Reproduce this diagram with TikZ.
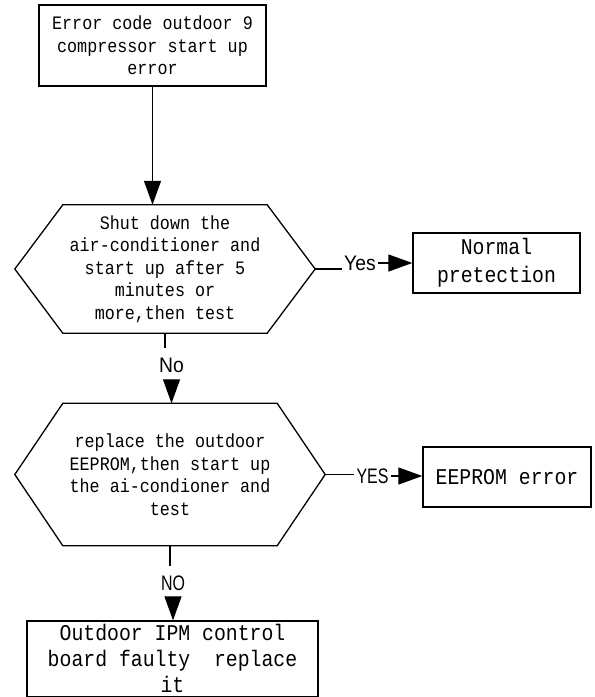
\documentclass[tikz,border=0pt]{standalone}
\usepackage{fontspec}
\usetikzlibrary{arrows.meta}
\newfontfamily\monof[FakeStretch=0.88]{Liberation Mono}
\newfontfamily\labf[FakeStretch=0.92]{Liberation Sans}
\newfontfamily\labcf[FakeStretch=0.76]{Liberation Sans}
\begin{document}
\begin{tikzpicture}[x=1pt,y=-1pt,
  box/.style={draw, line width=1.3pt, inner sep=0pt, align=center},
  smalltxt/.style={font=\monof\fontsize{19}{22.5}\selectfont},
  bigtxt/.style={font=\monof\fontsize{22.5}{26}\selectfont},
  lbl/.style={font=\labf\fontsize{21}{22}\selectfont, inner xsep=2pt, inner ysep=9pt},
  lblcaps/.style={font=\labcf\fontsize{21}{22}\selectfont, inner xsep=2pt, inner ysep=9pt},
  hexnode/.style={inner sep=0pt, align=center},
  hexline/.style={line width=1.3pt, line join=miter},
  arr/.style={-{Triangle[length=24pt,width=17pt]}, line width=1.2pt},
  ln/.style={line width=1.2pt}]
\useasboundingbox (0,0) rectangle (595,697);

% nodes
\node[box, smalltxt, minimum width=227pt, minimum height=81pt] (top) at (152.5,45.5)
  {Error code outdoor 9\\compressor start up\\error};

\node[hexnode, smalltxt, minimum width=300pt, minimum height=128pt] (h1) at (165,269)
  {Shut down the\\air-conditioner and\\start up after 5\\minutes or\\more,then test};
\draw[hexline] (h1.west) -- ([xshift=48pt]h1.north west) -- ([xshift=-48pt]h1.north east)
  -- (h1.east) -- ([xshift=-48pt]h1.south east) -- ([xshift=48pt]h1.south west) -- cycle;

\node[box, bigtxt, minimum width=167pt, minimum height=60pt] (normal) at (496.5,263)
  {Normal\\[2pt]pretection};

\node[hexnode, smalltxt, minimum width=310pt, minimum height=142pt] (h2) at (170,474.5)
  {replace the outdoor\\EEPROM,then start up\\the ai-condioner and\\test};
\draw[hexline] (h2.west) -- ([xshift=48pt]h2.north west) -- ([xshift=-48pt]h2.north east)
  -- (h2.east) -- ([xshift=-48pt]h2.south east) -- ([xshift=48pt]h2.south west) -- cycle;

\node[box, bigtxt, minimum width=168pt, minimum height=60pt] (eeprom) at (507,477)
  {EEPROM error};

\node[box, bigtxt, minimum width=291pt, minimum height=75.5pt] (bottom) at (172.5,658.75)
  {Outdoor IPM control\\board faulty\ \ replace\\it};

% labels
\node[lbl] (yes) at (360,263) {Yes};
\node[lbl] (no) at (171.5,365) {No};
\node[lblcaps] (YES) at (372.5,476) {YES};
\node[lblcaps] (NO) at (173,583) {NO};

% connectors
\draw[arr] (top.south) -- (top.south |- h1.north);
\draw[ln] (h1.east) -- (h1.east -| yes.west);
\draw[arr] (yes.east) -- (yes.east -| normal.west);
\draw[ln] (h1.south) -- (h1.south |- no.north);
\draw[arr] (no.south) -- (no.south |- h2.north);
\draw[ln] (h2.east) -- (h2.east -| YES.west);
\draw[arr] (YES.east) -- (YES.east -| eeprom.west);
\draw[ln] (h2.south) -- (h2.south |- NO.north);
\draw[arr] (NO.south) -- (NO.south |- bottom.north);
\end{tikzpicture}
\end{document}
